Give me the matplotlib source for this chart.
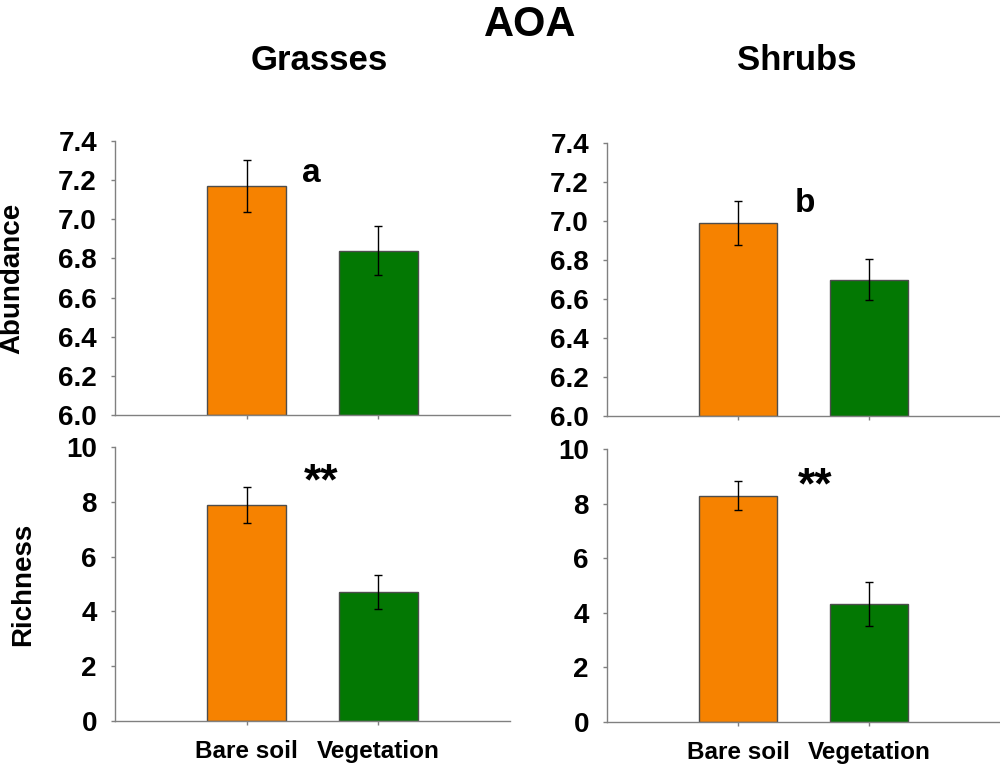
import numpy as np
import matplotlib
matplotlib.use("Agg")
from matplotlib import pyplot as plt

plt.rcParams['font.family'] = ['Liberation Sans', 'DejaVu Sans']

# data
groups = ['Bare soil', 'Vegetation']
abund_grasses = [7.17, 6.84]
abund_grasses_err = [0.135, 0.125]
abund_shrubs = [6.99, 6.70]
abund_shrubs_err = [0.113, 0.107]
rich_grasses = [7.89, 4.72]
rich_grasses_err = [0.66, 0.62]
rich_shrubs = [8.29, 4.33]
rich_shrubs_err = [0.54, 0.81]

bar_colors = ['#F68200', '#037803']
spine_gray = '#808080'


def style_panel(ax, ylim, yticks, fmt, show_xlabels):
    x = np.arange(len(groups))
    ax.set_xlim(-1, 2)
    ax.set_ylim(*ylim)
    ax.set_yticks(yticks)
    ax.set_yticklabels([fmt % v for v in yticks])
    ax.set_xticks(x)
    if show_xlabels:
        ax.set_xticklabels(groups, fontsize=17.5, fontweight='bold')
    else:
        ax.set_xticklabels([])
    ax.spines['top'].set_visible(False)
    ax.spines['right'].set_visible(False)
    for side in ['left', 'bottom']:
        ax.spines[side].set_color(spine_gray)
        ax.spines[side].set_linewidth(1.0)
    ax.tick_params(axis='y', direction='out', length=3, width=1,
                   color=spine_gray, labelsize=20, pad=10)
    ax.tick_params(axis='x', direction='out', length=3, width=1,
                   color=spine_gray, pad=11)
    for lab in ax.get_yticklabels():
        lab.set_fontweight('bold')


def draw_bars(ax, vals, errs, bottom=0):
    x = np.arange(len(groups))
    heights = np.array(vals) - bottom
    ax.bar(x, heights, width=0.6, bottom=bottom, color=bar_colors,
           edgecolor='#4d4d4d', linewidth=1.0, zorder=2)
    ax.errorbar(x, vals, yerr=errs, fmt='none', ecolor='black',
                elinewidth=1.0, capsize=3, capthick=1.0, zorder=3)


fig = plt.figure(figsize=(10, 7.71), dpi=100)

ax1 = fig.add_axes([0.115, 0.4617, 0.395, 0.3554])
ax2 = fig.add_axes([0.607, 0.4604, 0.393, 0.3541])
ax3 = fig.add_axes([0.115, 0.0649, 0.395, 0.3553])
ax4 = fig.add_axes([0.607, 0.0636, 0.393, 0.3540])

abund_ticks = np.round(np.arange(6.0, 7.41, 0.2), 1)
rich_ticks = np.arange(0, 11, 2)

draw_bars(ax1, abund_grasses, abund_grasses_err, bottom=6.0)
style_panel(ax1, (6.0, 7.4), abund_ticks, '%.1f', False)
draw_bars(ax2, abund_shrubs, abund_shrubs_err, bottom=6.0)
style_panel(ax2, (6.0, 7.4), abund_ticks, '%.1f', False)
draw_bars(ax3, rich_grasses, rich_grasses_err)
style_panel(ax3, (0, 10), rich_ticks, '%d', True)
draw_bars(ax4, rich_shrubs, rich_shrubs_err)
style_panel(ax4, (0, 10), rich_ticks, '%d', True)

ax1.set_ylabel('Abundance', fontsize=20, fontweight='bold')
ax1.yaxis.set_label_coords(-0.228, 0.5)
ax3.set_ylabel('Richness', fontsize=20, fontweight='bold')
ax3.yaxis.set_label_coords(-0.20, 0.5)

# significance letters / stars
ax1.text(0.49, 7.19, 'a', fontsize=24, fontweight='bold', ha='center', va='baseline')
ax2.text(0.51, 7.046, 'b', fontsize=24, fontweight='bold', ha='center', va='baseline')
ax3.text(0.565, 9.45, '**', fontsize=32, fontweight='bold', ha='center', va='top')
ax4.text(0.59, 9.37, '**', fontsize=32, fontweight='bold', ha='center', va='top')

fig.text(0.53, 0.9676, 'AOA', fontsize=30, fontweight='bold', ha='center', va='center')
fig.text(0.319, 0.922, 'Grasses', fontsize=25, fontweight='bold', ha='center', va='center')
fig.text(0.797, 0.922, 'Shrubs', fontsize=25, fontweight='bold', ha='center', va='center')

fig.savefig('out.png', dpi=100)
